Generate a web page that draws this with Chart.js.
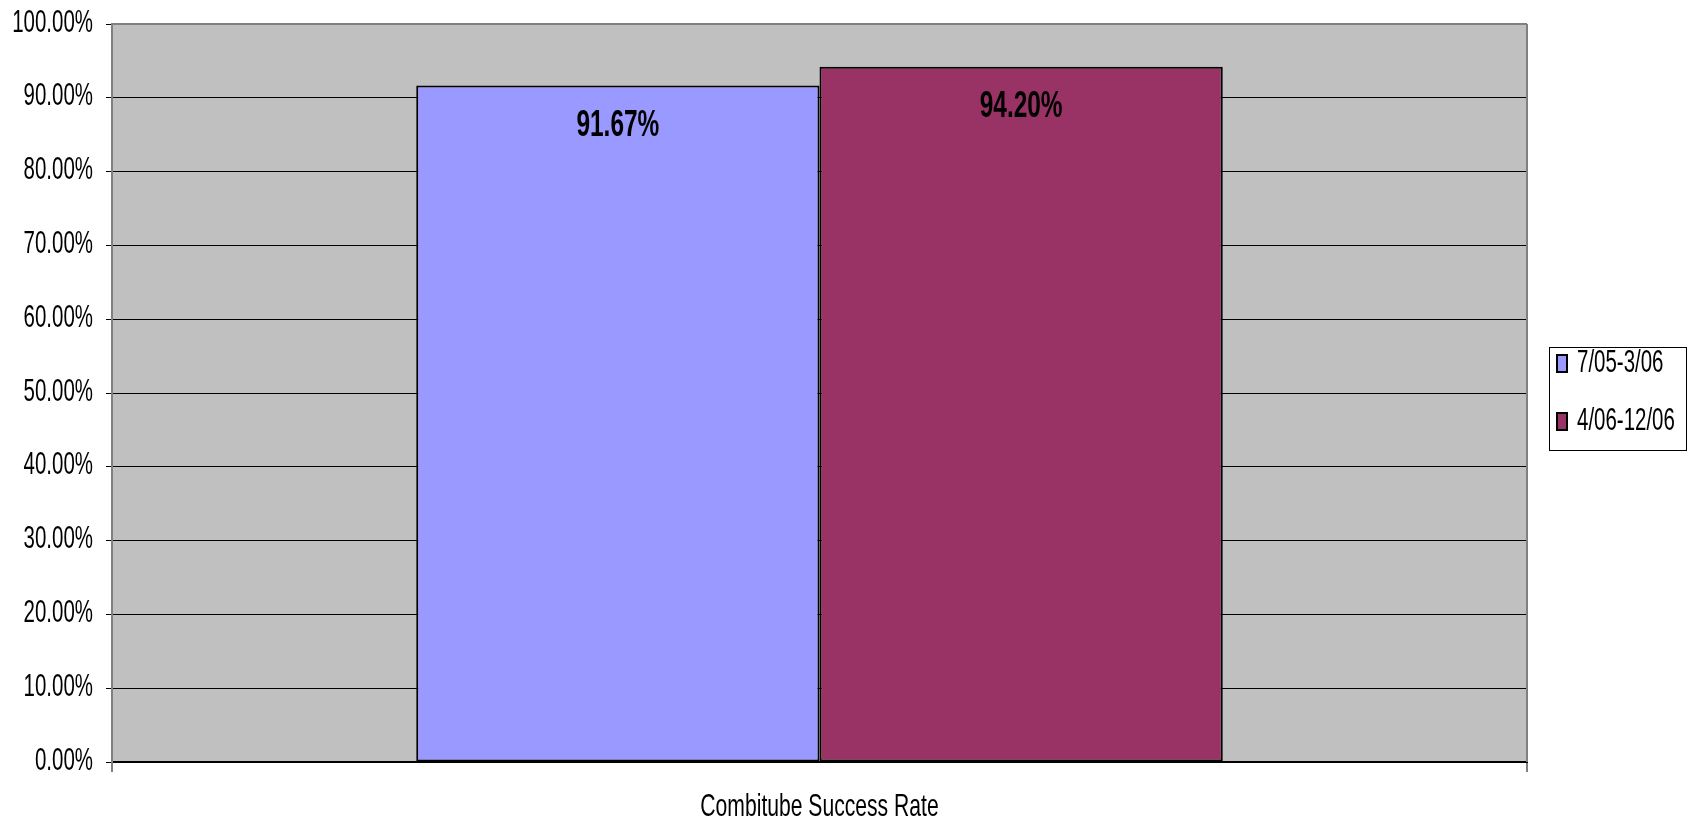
<!DOCTYPE html>
<html>
<head>
<meta charset="utf-8">
<script src="https://cdn.jsdelivr.net/npm/chart.js@4"></script>
<style>
  html, body { margin: 0; padding: 0; background: #fff; }
  #wrap { width: 1690px; height: 823px; }
</style>
</head>
<body>
<div id="wrap"><canvas id="chart"></canvas></div>
<script>
const categories = ['Combitube Success Rate'];
const seriesNames = ['7/05-3/06', '4/06-12/06'];
const seriesValues = [[91.67], [94.20]];
const seriesColors = ['#9999FF', '#993366'];
const yTicks = [0, 10, 20, 30, 40, 50, 60, 70, 80, 90, 100];

const FONT = '"Liberation Sans", Arial, sans-serif';
// the original text is squeezed sideways, so draw it with a horizontal scale
const SX = 0.66;

function squeezedText(ctx, text, x, y, font, align) {
    ctx.save();
    ctx.font = font;
    ctx.fillStyle = '#000';
    ctx.textAlign = align;
    ctx.textBaseline = 'middle';
    ctx.translate(x, y);
    ctx.scale(SX, 1);
    ctx.fillText(text, 0, 0);
    ctx.restore();
}

// gray plot background + top/right border
const plotBg = {
    id: 'plotBg',
    beforeDraw(chart) {
        const { ctx, chartArea: a } = chart;
        ctx.save();
        ctx.fillStyle = '#C0C0C0';
        ctx.fillRect(a.left, a.top, a.right - a.left, a.bottom - a.top);
        ctx.restore();
    },
    afterDraw(chart) {
        const { ctx, chartArea: a } = chart;
        ctx.save();
        ctx.strokeStyle = '#808080';
        ctx.lineWidth = 2;
        ctx.beginPath();
        ctx.moveTo(a.right, a.top);
        ctx.lineTo(a.right, a.bottom);
        ctx.moveTo(a.left, a.top);
        ctx.lineTo(a.right, a.top);
        ctx.stroke();
        ctx.restore();
    }
};

// axis labels drawn from the chart's own scales
const axisLabels = {
    id: 'axisLabels',
    afterDraw(chart) {
        const ctx = chart.ctx;
        const y = chart.scales.y, x = chart.scales.x;
        yTicks.forEach(v => {
            squeezedText(ctx, v.toFixed(2) + '%', 93, y.getPixelForValue(v) - 1, '31px ' + FONT, 'right');
        });
        categories.forEach((c, i) => {
            squeezedText(ctx, c, x.getPixelForValue(i), 807, '32px ' + FONT, 'center');
        });
    }
};

// value labels inside the bars
const valueLabels = {
    id: 'valueLabels',
    afterDatasetsDraw(chart) {
        const ctx = chart.ctx;
        chart.data.datasets.forEach((ds, i) => {
            chart.getDatasetMeta(i).data.forEach((bar, j) => {
                squeezedText(ctx, ds.data[j].toFixed(2) + '%', bar.x, bar.y + 40, 'bold 37px ' + FONT, 'center');
            });
        });
    }
};

// boxed legend on the right
const boxLegend = {
    id: 'boxLegend',
    afterDraw(chart) {
        const ctx = chart.ctx;
        const x = 1549, y = 347, w = 137, h = 103;
        ctx.save();
        ctx.fillStyle = '#fff';
        ctx.fillRect(x, y, w, h);
        ctx.strokeStyle = '#000';
        ctx.lineWidth = 1;
        ctx.strokeRect(x + 0.5, y + 0.5, w, h);
        chart.data.datasets.forEach((ds, i) => {
            const cy = y + 16 + i * 58;
            ctx.fillStyle = ds.backgroundColor;
            ctx.fillRect(x + 8, cy - 8, 10, 17);
            ctx.strokeStyle = '#000';
            ctx.lineWidth = 2;
            ctx.strokeRect(x + 8, cy - 8, 10, 17);
            squeezedText(ctx, ds.label, x + 28, cy, '31px ' + FONT, 'left');
        });
        ctx.restore();
    }
};

const datasets = seriesNames.map((name, i) => ({
    label: name,
    data: seriesValues[i],
    backgroundColor: seriesColors[i],
    borderColor: '#000',
    borderWidth: 2,
    borderSkipped: false,
    categoryPercentage: 0.57,
    barPercentage: 1.0
}));

new Chart(document.getElementById('chart'), {
    type: 'bar',
    data: { labels: categories, datasets: datasets },
    options: {
        responsive: true,
        maintainAspectRatio: false,
        animation: false,
        layout: { padding: { top: 24, right: 163, left: 0, bottom: 0 } },
        plugins: {
            legend: { display: false },
            tooltip: { enabled: false }
        },
        scales: {
            x: {
                offset: true,
                grid: {
                    offset: true,
                    drawOnChartArea: false,
                    tickLength: 10,
                    color: '#808080',
                    lineWidth: 2
                },
                border: { color: '#000', width: 2 },
                ticks: { display: false },
                afterFit(scale) { scale.height = 61; }
            },
            y: {
                min: 0,
                max: 100,
                afterBuildTicks(scale) { scale.ticks = yTicks.map(v => ({ value: v })); },
                grid: {
                    color: ctx => (ctx.tick && ctx.tick.value === 100) ? '#808080' : '#000',
                    lineWidth: 1,
                    tickLength: 6,
                    tickColor: '#000'
                },
                border: { color: '#808080', width: 2 },
                ticks: { display: false },
                afterFit(scale) { scale.width = 112; }
            }
        }
    },
    plugins: [plotBg, valueLabels, axisLabels, boxLegend]
});
</script>
</body>
</html>
